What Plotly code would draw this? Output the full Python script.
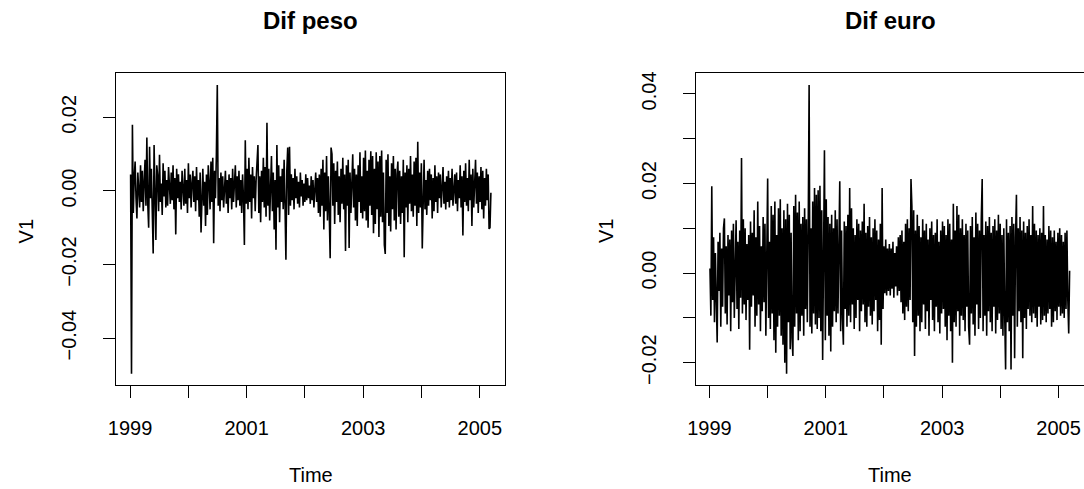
import numpy as np
import plotly.graph_objects as go

# ---------------- data (units of 1e-4) ----------------
time_start = 1999.01
time_end = 2005.19

peso_1e4 = [
    45, -497, 180, -60, 35, 80, -20, -75, 50, 10,
    -45, 70, -30, 55, -55, 25, 85, -40, 145, -35,
    -100, 120, -20, 60, -80, -170, 125, -60, -133, 70,
    40, -55, 98, -30, 20, -65, 75, -15, 55, -45,
    30, -40, 65, 15, -35, 50, -25, 70, -50, 35,
    -118, 60, -20, 45, -30, 25, -50, 55, 10, -40,
    60, -35, 30, -60, 75, -20, 45, -45, 20, 55,
    -30, 40, -55, 65, -25, 30, -70, 50, -113, 35,
    60, -40, 25, -95, 45, -65, 70, 20, -50, 80,
    -30, 90, -142, 55, -20, 100, 288, -40, 35, -55,
    50, -25, 40, -45, 20, 55, -35, 30, -60, 45,
    -20, 35, -50, 60, -30, 25, 70, -45, 40, -25,
    55, -40, 30, -60, 45, -20, -147, 138, -35, 60,
    -50, 90, -30, 45, -75, 65, -20, 40, -55, 30,
    70, 125, -60, 40, -85, 55, -30, 90, -45, 65,
    -70, 185, -40, 60, -80, 35, 95, -55, 50, -105,
    30, -160, 125, -45, 70, -85, 40, -30, 60, -50,
    85, -40, -187, 55, 118, -65, 120, -40, 45, -25,
    35, -50, 60, -20, 40, -35, 25, -45, 50, -15,
    30, -40, 20, -30, 45, -25, 35, -20, 15, -35,
    40, -25, 30, -45, 20, 50, -30, 35, -60, 45,
    -70, 60, -40, 85, -105, 50, -55, 95, -80, 40,
    -60, -183, 118, 100, -40, 75, -90, 55, -30, 80,
    -65, 40, -85, 60, -35, 90, -50, 45, -163, 70,
    -40, 85, -155, 50, -60, 35, 100, -45, 60, -80,
    45, -95, 70, -30, 105, -60, 40, -75, 90, -55,
    110, -80, 55, -100, 85, -40, 108, -65, 95, -115,
    60, -90, 105, -50, 80, -125, 95, -70, 110, -85,
    50, -147, -171, 85, -60, 100, -95, 40, -110, 75,
    -50, 95, -80, 60, -105, 45, 80, -70, 55, -90,
    40, -60, 85, -180, 50, -45, 70, -85, 60, -35,
    95, -55, 45, -70, 80, -40, 90, -95, 134, -60,
    50, -45, 75, -156, 40, 85, -50, 30, -65, 55,
    -40, 60, -25, 45, -75, 35, -55, 70, -30, 40,
    -60, 50, -20, 45, -45, 30, 65, -35, 25, -50,
    40, -30, 55, -45, 35, -25, 60, -40, 20, 45,
    -35, 50, -55, 30, -20, 70, -45, 40, -121, 55,
    -30, 75, -40, 35, -55, 85, -25, 45, -95, 60,
    -45, 30, 85, -35, 50, -60, 40, -30, 65, -50,
    55, -75, 35, -40, 60, -25, 45, -103, -100, -5,
]

euro_1e4 = [
    10, -95, 194, -60, 80, -110, 45, -85, -155, 70,
    -40, 90, -120, 55, -75, 100, 122, -90, 60, -115,
    85, -50, 75, -130, 95, -65, 110, -100, 40, 118,
    -80, 70, -125, 95, -55, 257, -90, 120, -70, 100,
    -105, 65, -60, 85, -171, 115, -75, 90, -50, 140,
    -120, 80, -95, 160, -70, 105, -130, 60, -85, 125,
    -65, 110, -140, 95, 211, -100, 70, -125, 150, -90,
    130, -150, 160, -178, 85, -120, 145, -95, 165, -140,
    100, -160, 140, -200, 120, -225, 155, -110, 130, -170,
    90, -145, -185, 150, -120, 175, -90, 135, -150, 160,
    -130, 110, -95, 125, -140, 145, -80, 120, -110, 95,
    420, -120, 100, -135, 160, -90, 190, -115, 175, -125,
    185, -100, 195, -130, 140, -194, 120, 274, -150, 165,
    -95, 125, -140, 110, -175, 130, -120, 100, -85, 140,
    -110, 120, -90, 150, 205, -130, 95, -100, -160, 115,
    -80, 105, -120, 130, -95, 190, -110, 145, -70, 100,
    -125, 85, -100, 120, -60, 110, -130, 95, -85, 115,
    -70, 155, -110, 90, -120, 105, -75, 125, -95, 80,
    -115, 100, -85, 120, -60, 95, -130, 75, -105, 110,
    -160, 190, -80, 60, -45, 75, -50, 55, -40, 65,
    -50, 55, -35, 70, -55, 45, -30, 60, -50, 80,
    -40, 85, -65, 95, -90, 70, -105, 110, -75, 120,
    -85, 100, -60, 210, 150, -110, 140, -185, 95, -120,
    130, -95, 105, -130, 80, -110, 120, -70, 95, -125,
    110, -85, 75, -140, 100, -60, 115, -105, 85, -130,
    90, -75, 120, -110, 70, -135, 95, -90, 115, -80,
    105, -120, 85, -150, 120, -95, 110, -130, 75, -200,
    155, -110, 95, -120, 150, -85, 130, -140, 100, -95,
    120, -105, 85, -130, 110, -75, 95, -120, -160, 105,
    -90, 125, -115, 80, -140, 135, -70, 110, -125, 95,
    -100, 120, 210, -130, 85, -95, 115, -140, 105, -85,
    125, -110, 90, -130, 105, -75, 120, -135, 95, -105,
    130, -90, 110, -125, 85, -140, 100, -95, -215, 120,
    -110, 90, -130, 105, -215, 125, -95, 110, -190, 80,
    175, -120, 100, -85, 125, -110, 95, -190, 115, -100,
    90, -125, 105, -80, 120, -95, 85, -110, 150, -90,
    110, -100, 95, -120, 85, -75, 100, -115, 90, -105,
    150, -95, 85, -110, 75, -90, 105, -80, 95, -120,
    80, -110, 95, -85, 70, -105, 90, -75, 100, -95,
    85, -90, 70, -100, 90, -80, 95, -60, -135, 5,
]

year_ticks = [1999, 2000, 2001, 2002, 2003, 2004, 2005]
year_labels = ["1999", "", "2001", "", "2003", "", "2005"]

peso_yticks = [-0.04, -0.02, 0.00, 0.02]
peso_ylabels = ["\u22120.04", "\u22120.02", "0.00", "0.02"]
euro_yticks = [-0.02, -0.01, 0.00, 0.01, 0.02, 0.03, 0.04]
euro_ylabels = ["\u22120.02", "", "0.00", "", "0.02", "", "0.04"]

titles = ["Dif peso", "Dif euro"]

# ---------------- build ----------------
peso = np.array(peso_1e4) / 1e4
euro = np.array(euro_1e4) / 1e4
t_peso = np.linspace(time_start, time_end, len(peso))
t_euro = np.linspace(time_start, time_end, len(euro))


def padded(lo, hi, f=0.04):
    d = hi - lo
    return [lo - f * d, hi + f * d]


W, H = 1084, 489
FONT = "Liberation Sans, Arial, Helvetica, sans-serif"

fig = go.Figure()
fig.add_trace(go.Scatter(x=t_peso, y=peso, mode="lines",
                         line=dict(color="black", width=1.6),
                         xaxis="x", yaxis="y", showlegend=False, hoverinfo="skip"))
fig.add_trace(go.Scatter(x=t_euro, y=euro, mode="lines",
                         line=dict(color="black", width=1.6),
                         xaxis="x2", yaxis="y2", showlegend=False, hoverinfo="skip"))

y_dom = [(H - 385) / H, (H - 71.7) / H]
x1_dom = [109 / W, 501 / W]
x2_dom = [692.7 / W, 1.0]

axis_common = dict(showgrid=False, zeroline=False, showline=True, linecolor="black",
                   linewidth=1, ticks="outside", ticklen=12, tickcolor="black",
                   tickwidth=1, tickfont=dict(family=FONT, size=20, color="black"))

fig.update_layout(
    width=W, height=H,
    margin=dict(l=0, r=0, t=0, b=0),
    paper_bgcolor="white", plot_bgcolor="white",
    font=dict(family=FONT, color="black"),
    xaxis=dict(domain=x1_dom, anchor="y", range=padded(t_peso.min(), t_peso.max()),
               tickmode="array", tickvals=year_ticks, ticktext=year_labels,
               mirror=True, ticklabelstandoff=13, **axis_common),
    yaxis=dict(domain=y_dom, anchor="x", range=padded(peso.min(), peso.max()),
               tickmode="array", tickvals=peso_yticks, ticktext=peso_ylabels,
               tickangle=-90, mirror=True, ticklabelstandoff=19, **axis_common),
    xaxis2=dict(domain=x2_dom, anchor="y2", range=padded(t_euro.min(), t_euro.max()),
                tickmode="array", tickvals=year_ticks, ticktext=year_labels,
                mirror=True, ticklabelstandoff=13, **axis_common),
    yaxis2=dict(domain=y_dom, anchor="x2", range=padded(euro.min(), euro.max()),
                tickmode="array", tickvals=euro_yticks, ticktext=euro_ylabels,
                tickangle=-90, mirror=False, ticklabelstandoff=19, **axis_common),
)

centers = [(x1_dom[0] + x1_dom[1]) / 2, (x2_dom[0] + 1084.7 / W) / 2]
vlab_x = [18.5 / W, 602.5 / W]
for i in range(2):
    fig.add_annotation(text="<b>" + titles[i] + "</b>", xref="paper", yref="paper",
                       x=centers[i], y=1 - 19 / H, xanchor="center", yanchor="middle",
                       showarrow=False, font=dict(family=FONT, size=24, color="black"))
    fig.add_annotation(text="Time", xref="paper", yref="paper",
                       x=centers[i], y=1 - 475 / H, xanchor="center", yanchor="middle",
                       showarrow=False, font=dict(family=FONT, size=20, color="black"))
    fig.add_annotation(text="V1", xref="paper", yref="paper", textangle=-90,
                       x=vlab_x[i], y=1 - 230 / H, xanchor="center", yanchor="middle",
                       showarrow=False, font=dict(family=FONT, size=20, color="black"))

fig.write_html("out.html")
